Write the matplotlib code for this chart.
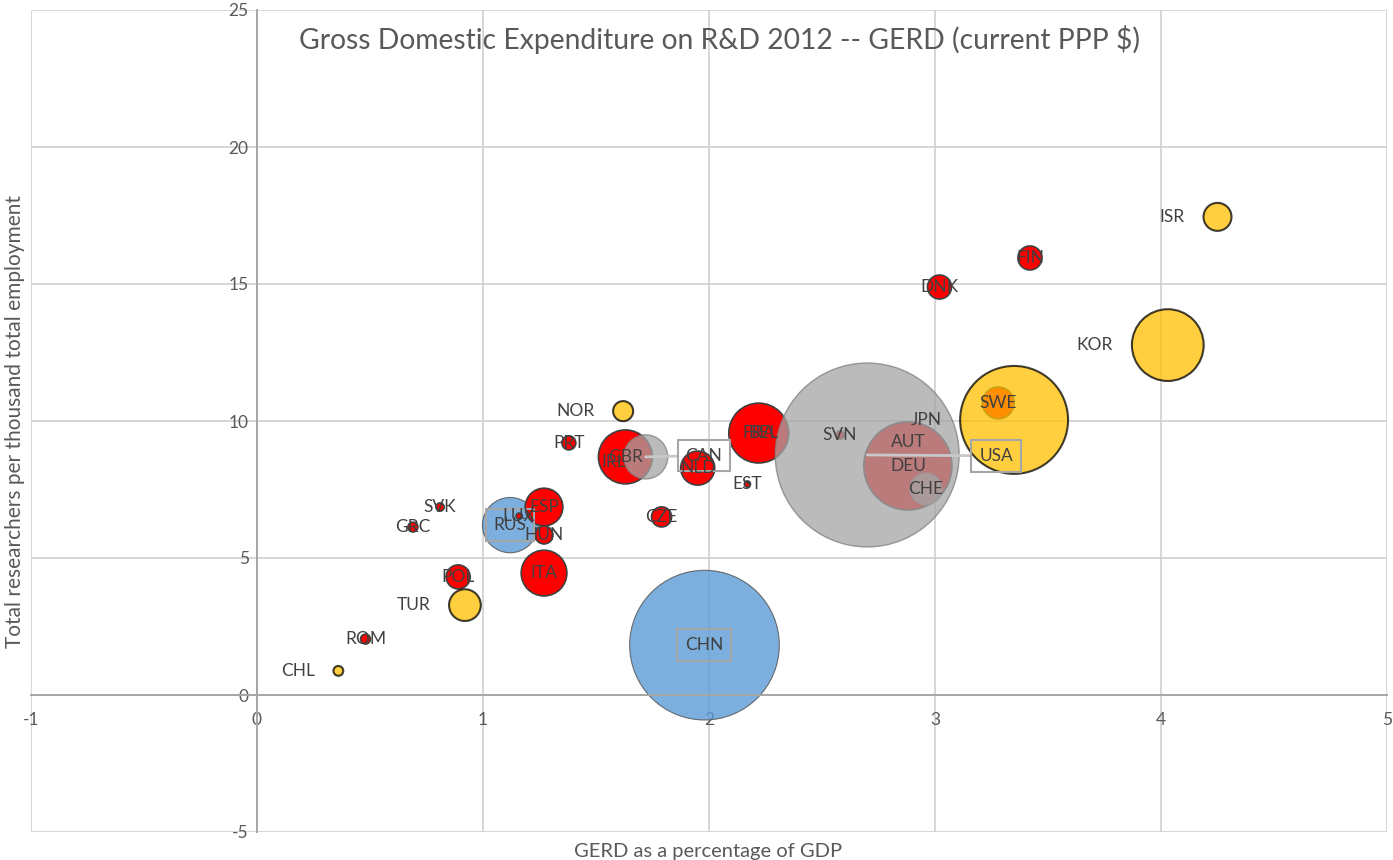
import numpy as np
import matplotlib.pyplot as plt

plt.rcParams['font.family'] = ['Lato', 'DejaVu Sans']
plt.rcParams['axes.unicode_minus'] = False

# country, GERD % of GDP, researchers per thousand employment, GERD (bn current PPP $), group
countries = ['CHL', 'ROM', 'TUR', 'POL', 'GRC', 'SVK', 'RUS', 'LUX', 'ESP', 'HUN',
             'ITA', 'PRT', 'NOR', 'IRL', 'GBR', 'CAN', 'NLD', 'CZE', 'CHN', 'EST',
             'FRA', 'BEL', 'SVN', 'USA', 'DEU', 'AUT', 'CHE', 'JPN', 'SWE', 'DNK',
             'FIN', 'KOR', 'ISR']
gerd_pct = [0.36, 0.48, 0.92, 0.89, 0.69, 0.81, 1.12, 1.16, 1.27, 1.27,
            1.27, 1.38, 1.62, 1.58, 1.63, 1.72, 1.95, 1.79, 1.98, 2.17,
            2.22, 2.24, 2.58, 2.70, 2.88, 2.88, 2.96, 3.35, 3.28, 3.02,
            3.42, 4.03, 4.25]
researchers = [0.88, 2.04, 3.28, 4.31, 6.13, 6.86, 6.20, 6.53, 6.86, 5.84,
               4.45, 9.20, 10.36, 8.50, 8.69, 8.69, 8.28, 6.50, 1.82, 7.70,
               9.56, 9.56, 9.49, 8.76, 8.36, 9.23, 7.52, 10.04, 10.66, 14.89,
               15.95, 12.77, 17.45]
gerd_bn = [1.3, 1.3, 13.5, 7.7, 1.3, 0.9, 41, 0.5, 19, 4.3,
           28, 2.6, 5.4, 3.4, 39, 26, 15.5, 5.4, 300, 0.5,
           48, 9, 0.9, 453, 104, 10.5, 13.5, 156, 13.5, 7.7,
           7.7, 69, 10.5]
group = ['oecd', 'eu', 'oecd', 'eu', 'eu', 'eu', 'brics', 'eu', 'eu', 'eu',
         'eu', 'eu', 'oecd', 'eu', 'eu', 'nam', 'eu', 'eu', 'brics', 'eu',
         'eu', 'eu', 'eu', 'nam', 'eu', 'eu', 'nam', 'oecd', 'eu', 'eu',
         'eu', 'oecd', 'oecd']

x = np.array(gerd_pct)
y = np.array(researchers)
v = np.array(gerd_bn)
g = np.array(group)
size = v * 38.7   # bubble area proportional to GERD

styles = {
    'brics': dict(fc='#5B9BD5', alpha=0.8, ec='#505050', lw=0.8, z=2),
    'eu':    dict(fc='#FF0000', alpha=1.0, ec='#404040', lw=1.2, z=3),
    'nam':   dict(fc='#A5A5A5', alpha=0.75, ec='#7F7F7F', lw=1.0, z=4),
    'oecd':  dict(fc='#FFC000', alpha=0.75, ec='#000000', lw=1.5, z=5),
}

fig = plt.figure(figsize=(13.93, 8.6), dpi=100)
ax = fig.add_axes([31 / 1393, 28 / 860, 1356 / 1393, 822 / 860])

for key, st in styles.items():
    m = g == key
    order = np.argsort(size[m])  # small first, big ones on top
    ax.scatter(x[m][order], y[m][order], s=size[m][order], c=st['fc'], alpha=st['alpha'],
               edgecolors=st['ec'], linewidths=st['lw'], zorder=st['z'])

label_kw = dict(fontsize=12.5, color='#404040', zorder=10)
boxed = {'CHN', 'RUS'}
moved = {'USA': (3.27, 8.73), 'CAN': (1.977, 8.74)}
box = dict(boxstyle='square,pad=0.45', fc='none', ec='#A6A6A6', lw=1.5)

for i, name in enumerate(countries):
    if name in moved:
        ax.annotate(name, xy=(x[i], y[i]), xytext=moved[name], ha='center', va='center',
                    bbox=box, arrowprops=dict(arrowstyle='-', color='#C8C8C8', lw=2,
                                              shrinkA=0, shrinkB=0), **label_kw)
    elif g[i] == 'oecd':
        off = np.sqrt(size[i]) / 2 + 13.5
        ax.annotate(name, xy=(x[i], y[i]), xytext=(-off, 0), textcoords='offset points',
                    ha='right', va='center', **label_kw)
    else:
        ax.text(x[i], y[i], name, ha='center', va='center',
                bbox=box if name in boxed else None, **label_kw)

ax.set_xlim(-1, 5)
ax.set_ylim(-5, 25)
ax.set_xticks(range(-1, 6))
ax.set_yticks(range(-5, 30, 5))
ax.grid(color='#D0D0D0', lw=1.2)
ax.set_axisbelow(True)
ax.spines['left'].set_position(('data', 0))
ax.spines['bottom'].set_position(('data', 0))
for s in ['left', 'bottom']:
    ax.spines[s].set_color('#A6A6A6')
    ax.spines[s].set_linewidth(1.4)
for s in ['top', 'right']:
    ax.spines[s].set_visible(False)
ax.tick_params(length=0, labelsize=12.5, colors='#595959')
ax.tick_params(axis='x', pad=12)
ax.tick_params(axis='y', pad=6)

ax.text(0.508, 0.964, 'Gross Domestic Expenditure on R&D 2012 -- GERD (current PPP $)',
        transform=ax.transAxes, ha='center', va='center', fontsize=20.3, color='#595959')
fig.text(708 / 1393, 1 - 851 / 860, 'GERD as a percentage of GDP', ha='center', va='center',
         fontsize=14.5, color='#595959')
fig.text(15 / 1393, 1 - 421 / 860, 'Total researchers per thousand total employment',
         ha='center', va='center', rotation=90, fontsize=15, color='#595959')

fig.savefig('out.png', dpi=100)
